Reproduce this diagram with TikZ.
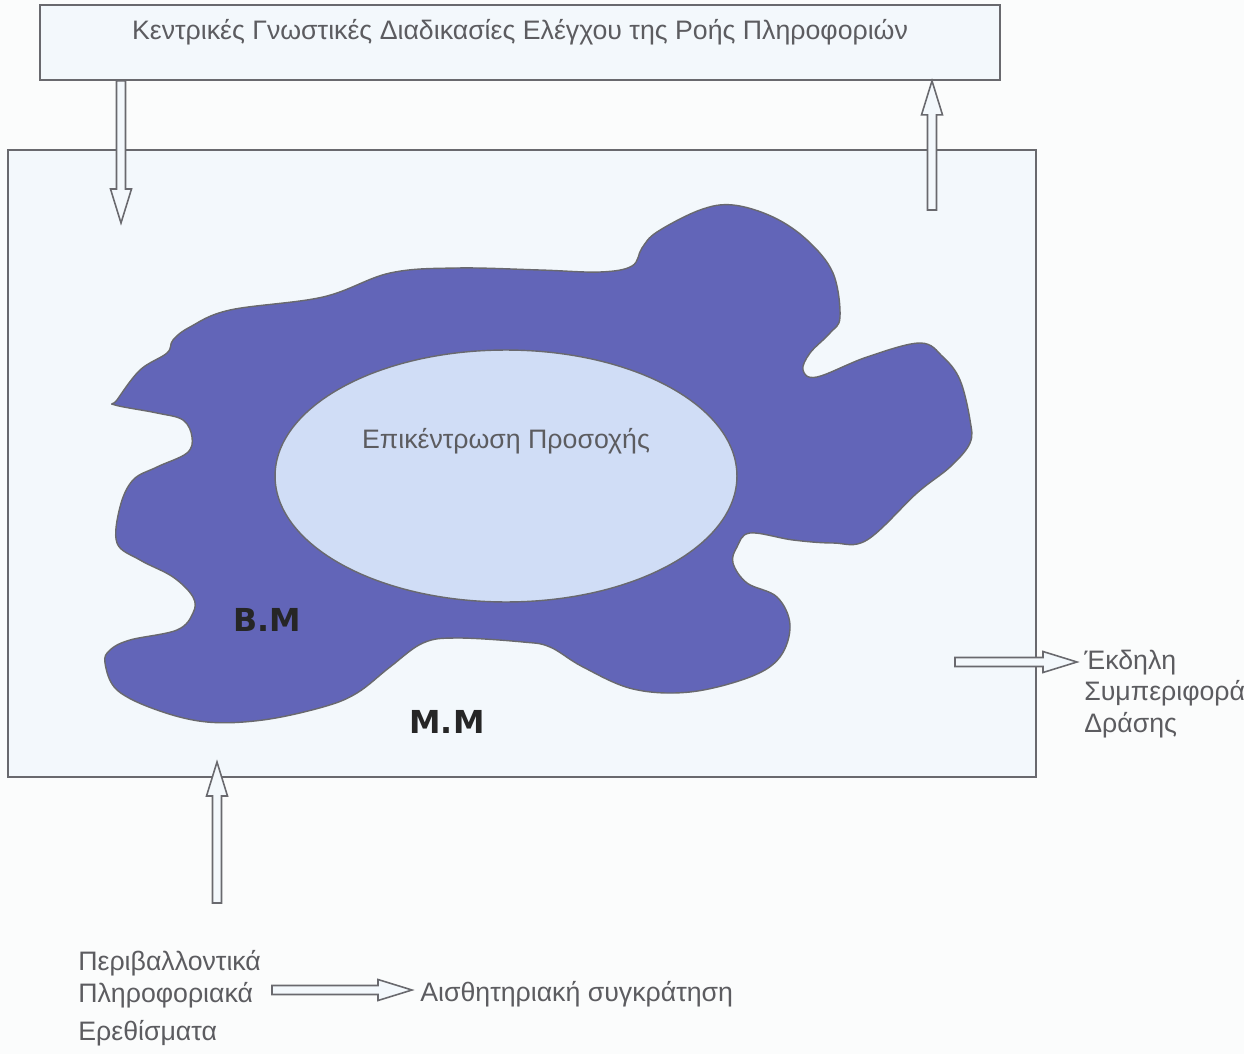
\documentclass[tikz,border=0pt]{standalone}
\usepackage{fontspec}
\setmainfont{Liberation Sans}
\newfontfamily\handfont{DejaVu Sans}
\usetikzlibrary{calc, positioning, shapes.geometric}
\definecolor{pagebg}{RGB}{251,252,252}
\definecolor{boxbg}{RGB}{243,248,252}
\definecolor{stmblue}{RGB}{98,101,184}
\definecolor{focusblue}{RGB}{208,221,246}
\definecolor{edgegray}{RGB}{105,105,110}
\definecolor{txtgray}{RGB}{92,92,96}
\tikzset{
  txt/.style={text=txtgray, font=\fontsize{15.2}{18}\selectfont, inner sep=0pt},
  panel/.style={draw=edgegray, line width=1pt, fill=boxbg},
  topbox/.style={panel, txt, minimum width=19.2cm, minimum height=1.5cm, text height=0.7cm, text depth=0.8cm},
  wmbox/.style={panel, minimum width=20.56cm, minimum height=12.54cm},
  focus/.style={ellipse, draw=edgegray, line width=0.8pt, fill=focusblue, txt, minimum width=9.24cm, minimum height=5.04cm, text height=0.4cm, text depth=1.52cm},
  memlbl/.style={font=\handfont\bfseries\fontsize{18}{22}\selectfont, text=black!85, inner sep=0pt},
  hollow/.style={draw=edgegray, line width=0.9pt, fill=boxbg,
    to path={($(\tikztostart)!0.09cm!90:(\tikztotarget)$)
      -- ($(\tikztotarget)!0.68cm!(\tikztostart)!0.09cm!90:(\tikztotarget)$)
      -- ($(\tikztotarget)!0.68cm!(\tikztostart)!0.21cm!90:(\tikztotarget)$)
      -- (\tikztotarget)
      -- ($(\tikztotarget)!0.68cm!(\tikztostart)!0.21cm!-90:(\tikztotarget)$)
      -- ($(\tikztotarget)!0.68cm!(\tikztostart)!0.09cm!-90:(\tikztotarget)$)
      -- ($(\tikztostart)!0.09cm!-90:(\tikztotarget)$) -- cycle}},
}
\begin{document}
\begin{tikzpicture}[x=0.02cm, y=-0.02cm]
  \useasboundingbox (0,0) rectangle (1244,1054);
  \fill[pagebg] (0,0) rectangle (1244,1054);
  \node[topbox] (ctrl) at (520,42.5) {Κεντρικές Γνωστικές Διαδικασίες Ελέγχου της Ροής Πληροφοριών};
  \node[wmbox] (wm) at (522,463.5) {};
  % short-term store
  \draw[edgegray, line width=0.8pt, fill=stmblue] plot[smooth cycle, tension=0.6] coordinates {
    (117,400) (140,370) (167,353) (173,340) (190,327) (230,310) (323,297) (390,273)
    (457,268) (540,270) (600,272) (632,266) (642,248) (657,232) (700,210) (733,205)
    (773,217) (807,240) (833,273) (840,317) (830,333) (810,353) (803,370) (817,377)
    (867,357) (920,343) (943,357) (960,380) (970,420) (970,443) (950,467) (917,493)
    (867,540) (833,543) (793,540) (750,533) (737,547) (733,563) (747,583) (777,597)
    (790,625) (780,657) (750,677) (690,692) (633,689) (583,667) (550,647) (523,642)
    (457,638) (423,643) (390,667) (357,693) (323,707) (263,720) (207,722) (157,710)
    (117,690) (105,663) (110,650) (130,640) (177,630) (193,613) (193,597) (173,577)
    (140,560) (117,543) (120,507) (133,480) (157,467) (187,453) (192,437) (183,420)
    (157,413) (115,405)};
  \node[focus] (att) at (506,476) {Επικέντρωση Προσοχής};
  \node[memlbl] (stm) at (267,620) {Β.Μ};
  \node[memlbl] (ltm) at (447,722) {Μ.Μ};
  \node[txt, align=left, anchor=west] (act) at (1084,694) {Έκδηλη\\Συμπεριφορά\\Δράσης};
  \node[txt, align=left, anchor=north west] (env) at (78,950) {Περιβαλλοντικά\\Πληροφοριακά\\[4pt]Ερεθίσματα};
  \node[txt, anchor=west] (ret) at (420,994) {Αισθητηριακή συγκράτηση};
  \coordinate (inT) at (121,223);
  \coordinate (fbS) at (932,210);
  \coordinate (senS) at (217,903);
  \coordinate (senT) at (217,762);
  \coordinate (outS) at (955,662);
  \coordinate (outT) at (1077,662);
  \coordinate (envS) at (272,990);
  \coordinate (envT) at (412,990);
  \draw[hollow] (ctrl.south -| inT) to (inT);
  \draw[hollow] (fbS) to (ctrl.south -| fbS);
  \draw[hollow] (senS) to (senT);
  \draw[hollow] (outS) to (outT);
  \draw[hollow] (envS) to (envT);
\end{tikzpicture}
\end{document}
